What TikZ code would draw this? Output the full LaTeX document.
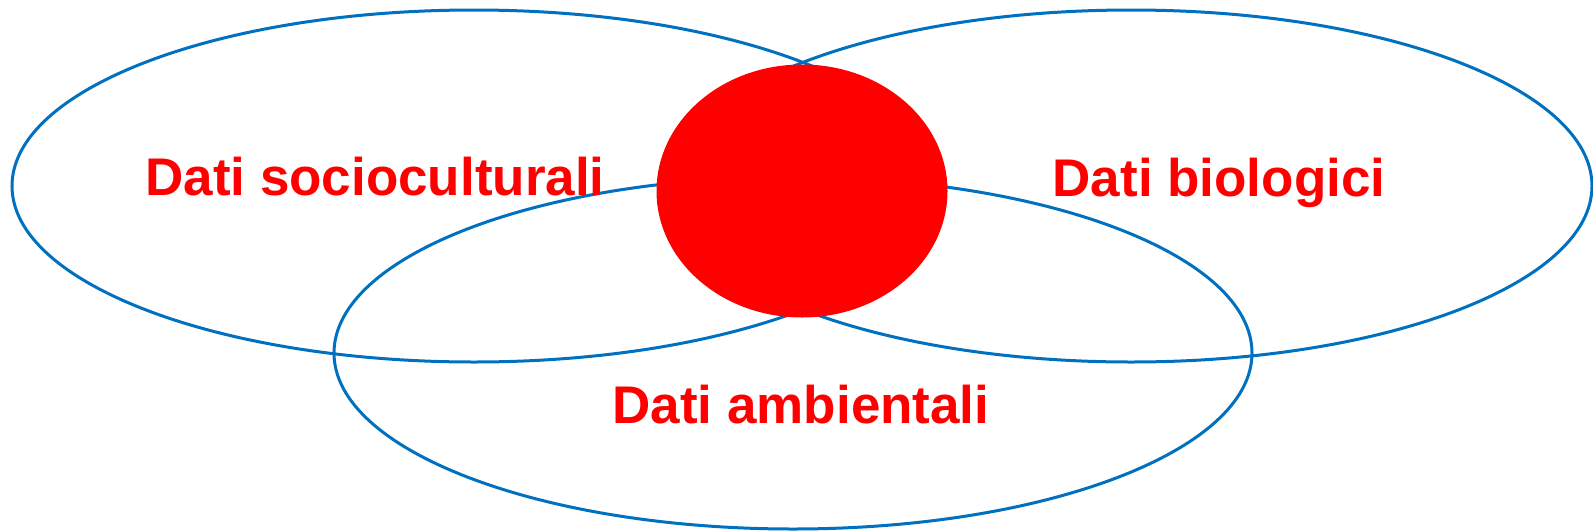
\documentclass[tikz,border=0pt]{standalone}
\usepackage{fontspec}
\setmainfont{Liberation Sans}
\usepackage{xcolor}
\usetikzlibrary{shapes.geometric}

\definecolor{setblue}{RGB}{0,112,192}

\begin{document}
\begin{tikzpicture}[
    x=1pt, y=-1pt,
    set/.style={ellipse, draw=setblue, line width=3pt, inner sep=0pt},
    core/.style={ellipse, fill=red, inner sep=0pt, minimum width=291pt, minimum height=253pt},
    label/.style={anchor=base, inner sep=0pt, text=red, font=\fontsize{53}{60}\selectfont\bfseries}
]
\useasboundingbox (0,0) rectangle (1593,531);

\node[set, minimum width=924pt, minimum height=352pt] (socio) at (474,186) {};
\node[set, minimum width=922pt, minimum height=352pt] (bio) at (1131,186) {};
\node[set, minimum width=918pt, minimum height=352pt] (amb) at (793,353) {};

\node[core] (inter) at (802,191) {};

\node[label] (lsocio) at (375,195) {Dati socioculturali};
\node[label] (lbio) at (1219,196) {Dati biologici};
\node[label] (lamb) at (801,423) {Dati ambientali};

\end{tikzpicture}
\end{document}
